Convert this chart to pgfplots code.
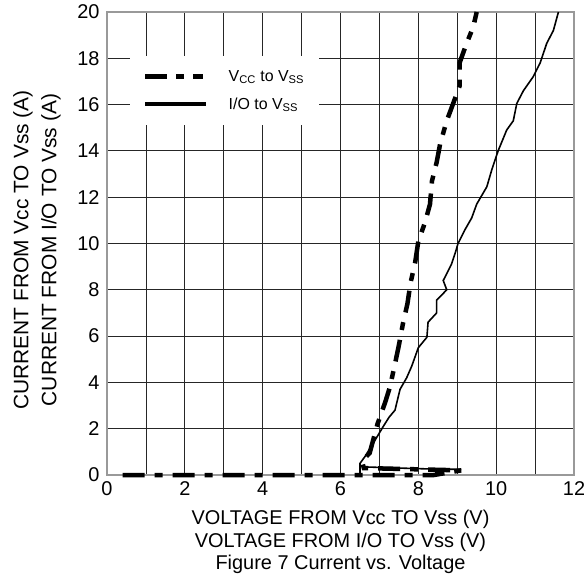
\documentclass[border=0pt]{standalone}
\usepackage{pgfplots}
\pgfplotsset{compat=1.18}
\usepackage{fontspec}
\setmainfont{Liberation Sans}

\begin{document}
\begin{tikzpicture}
\useasboundingbox (-107bp,-103bp) rectangle (477bp,475bp);
\begin{axis}[
    at={(0,0)}, anchor=south west,
    scale only axis,
    width=467bp, height=463bp,
    xmin=0, xmax=12,
    ymin=0, ymax=20,
    xtick={0,2,...,12},
    ytick={0,2,...,20},
    minor xtick={1,3,...,11},
    grid=both,
    major grid style={black!85, line width=0.8bp},
    minor grid style={black!85, line width=0.8bp},
    axis line style={black!40, line width=1.2bp},
    tick style={draw=none},
    clip=false,
    /pgf/number format/assume math mode=true,
    tick label style={font=\fontsize{20}{24}\selectfont},
    xticklabel style={yshift=-3bp},
    yticklabel style={xshift=-4bp},
    xlabel={VOLTAGE FROM Vcc TO Vss (V)\\VOLTAGE FROM I/O TO Vss (V)\\Figure 7 Current vs. Voltage},
    xlabel style={at={(axis description cs:0.5,0)}, anchor=north, yshift=-32bp,
        align=center, font=\fontsize{20}{22.5}\selectfont},
    ylabel={CURRENT FROM Vcc TO Vss (A)\\CURRENT FROM I/O TO Vss (A)},
    ylabel style={at={(axis description cs:0,0.486)}, anchor=center, yshift=70bp,
        align=center, font=\fontsize{21}{28}\selectfont},
    legend style={at={(axis cs:0.59,18.1)}, anchor=north west, draw=none, fill=white,
        font=\fontsize{16}{20}\selectfont, row sep=11bp, inner xsep=13bp, inner ysep=12bp,
        /tikz/every odd column/.append style={column sep=18bp}},
    legend cell align=left,
]
\addplot[black, line width=4.5bp, dash pattern=on 22bp off 10bp on 8bp off 10bp,
    legend image code/.code={\draw[black, line width=4.5bp, dash pattern=on 22bp off 9bp on 8bp off 9bp on 10bp off 9bp] (0bp,0bp) -- (61bp,0bp);}]
coordinates {
(0.4,0) (8.4,0) (9.1,0.2) (6.6,0.3) (6.55,0.6) (6.75,0.95) (6.95,2.2) (7.15,3.15)
(7.27,3.8) (7.4,4.8) (7.5,5.6) (7.6,6.5) (7.72,7.4) (7.8,8.3) (7.92,9.2) (8.0,10.1)
(8.17,10.9) (8.3,11.7) (8.35,12.7) (8.47,13.5) (8.56,14.3) (8.73,15.3) (8.9,16.07)
(9.06,16.8) (9.06,17.8) (9.23,18.6) (9.41,19.35) (9.5,20)
};
\addlegendentry{V\textsubscript{CC} to V\textsubscript{SS}\hspace{20bp}}
\addplot[black, line width=1.6bp,
    legend image code/.code={\draw[black, line width=3.5bp] (0bp,0bp) -- (61bp,0bp);}]
coordinates {
(6.5,0.05) (6.5,0.5) (6.63,0.8) (6.85,1.4) (7.1,2.1) (7.25,2.5) (7.4,2.8) (7.53,3.7)
(7.7,4.2) (7.83,4.7) (8.0,5.5) (8.22,5.95) (8.25,6.6) (8.47,7.0) (8.47,7.55) (8.73,8.0)
(8.64,8.4) (8.85,9.1) (8.95,9.6) (9.02,10.0) (9.2,10.6) (9.37,11.1) (9.5,11.7)
(9.76,12.45) (9.89,13.2) (10.05,14.0) (10.27,14.9) (10.44,15.3) (10.53,16.05)
(10.7,16.6) (10.95,17.2) (11.13,17.8) (11.3,18.65) (11.47,19.2) (11.6,20)
};
\addlegendentry{I/O to V\textsubscript{SS}}
\addplot[black, line width=1.6bp, forget plot]
coordinates {(6.6,0.35) (7.5,0.3) (8.5,0.25) (9.1,0.25)};
\end{axis}
\end{tikzpicture}
\end{document}
